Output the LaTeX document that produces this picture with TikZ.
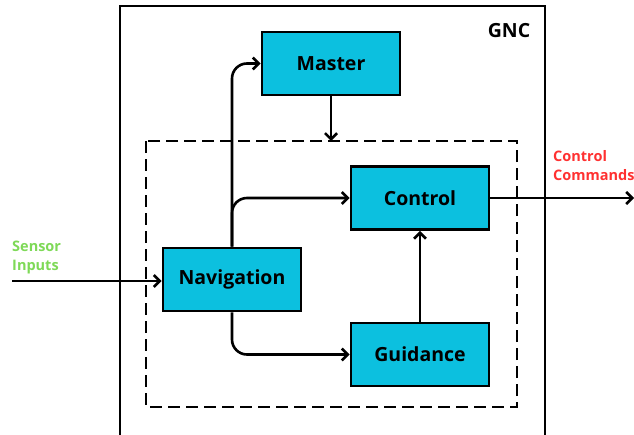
\documentclass[tikz,border=0pt]{standalone}
\usepackage{fontspec}
\setmainfont{Open Sans}
\usetikzlibrary{arrows.meta}
\definecolor{boxfill}{HTML}{0CC0DF}
\definecolor{ingreen}{HTML}{7ED957}
\definecolor{outred}{HTML}{FF3131}
\begin{document}
\begin{tikzpicture}[x=1pt,y=-1pt,
  blk/.style={draw=black,line width=2.8pt,fill=boxfill,minimum width=138pt,minimum height=63pt,inner sep=0pt,font=\bfseries\fontsize{19.5}{22}\selectfont},
  conn/.style={draw=black,line width=2.6pt,-{Straight Barb[length=6pt,width=12pt,line width=2.6pt]},rounded corners=15pt},
  lbl/.style={font=\bfseries\fontsize{14.5}{20}\selectfont,align=left,anchor=west,inner sep=0pt}]
\useasboundingbox (0,0) rectangle (634,434);
\draw[line width=2.8pt] (120,440) -- (120,6) -- (545,6) -- (545,440);
\node[font=\bfseries\fontsize{19.5}{22}\selectfont,anchor=center] (gnc) at (509,31) {GNC};
\draw[line width=2.8pt,dash pattern=on 12pt off 6pt] (146,141) rectangle (517,407);
\node[blk] (master) at (331,63.5) {Master};
\node[blk] (control) at (420,198) {Control};
\node[blk] (nav) at (232,279.5) {Navigation};
\node[blk] (guid) at (420,354.5) {Guidance};
\coordinate (dtop) at (331,141);
\coordinate (inp) at (12,281);
\coordinate (outp) at (634,198);
\node[lbl,text=ingreen] (sens) at (12,257) {Sensor\\[-1pt]Inputs};
\node[lbl,text=outred] (cmd) at (553,166) {Control\\[-1pt]Commands};
\draw[conn] (inp) -- (nav.west|-inp);
\draw[conn] (control.east) -- (outp);
\draw[conn] (master.south) -- (dtop);
\draw[conn] (nav.north) |- (master.west);
\draw[conn] (nav.north) |- (control.west);
\draw[conn] (nav.south) |- (guid.west);
\draw[conn] (guid.north) -- (control.south);
\end{tikzpicture}
\end{document}
